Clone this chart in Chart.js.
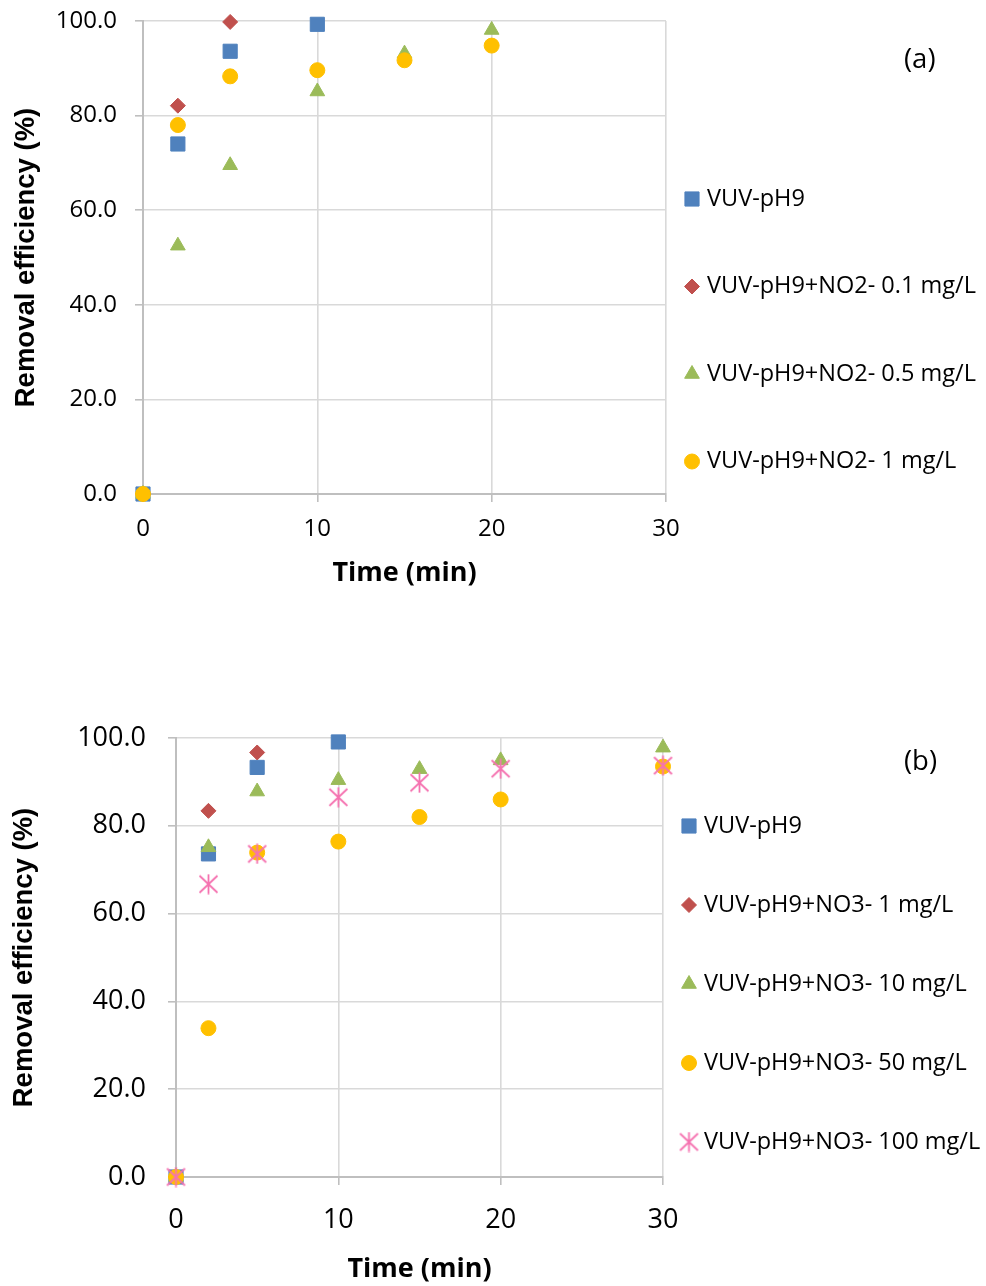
<!DOCTYPE html>
<html>
<head>
<meta charset="utf-8">
<script src="https://cdn.jsdelivr.net/npm/chart.js@4.4.1/dist/chart.umd.min.js"></script>
<style>
  html, body { margin: 0; padding: 0; background: #fff; }
  body { width: 986px; height: 1286px; position: relative; overflow: hidden; font-family: 'Open Sans', sans-serif; }
  canvas { position: absolute; left: 0; }
  #chartA { top: 0; }
  #chartB { top: 690px; }
  .panel { position: absolute; left: 904px; font-size: 27.5px; line-height: 36px; color: #000; }
</style>
</head>
<body>
<canvas id="chartA" width="986" height="600"></canvas>
<canvas id="chartB" width="986" height="596"></canvas>
<div class="panel" style="top:40px">(a)</div>
<div class="panel" style="top:742px">(b)</div>
<script>
// ---- data ----
// (a) nitrite
const minutesA = [0, 2, 5, 10, 15, 20];
const vuvA = [0, 74.0, 93.6, 99.3];
const no2_01 = [0, 82.1, 99.8];
const no2_05 = [0, 52.5, 69.5, 85.1, 93.1, 98.1];
const no2_1 = [0, 78.0, 88.3, 89.6, 91.7, 94.8];
const labelsA = ['VUV-pH9', 'VUV-pH9+NO2- 0.1 mg/L', 'VUV-pH9+NO2- 0.5 mg/L', 'VUV-pH9+NO2- 1 mg/L'];

// (b) nitrate
const minutesB = [0, 2, 5, 10, 15, 20, 30];
const vuvB = [0, 73.6, 93.3, 99.1];
const no3_1 = [0, 83.4, 96.7];
const no3_10 = [0, 75.1, 87.8, 90.4, 92.9, 94.9, 97.8];
const no3_50 = [0, 33.9, 73.9, 76.4, 82.0, 86.0, 93.5];
const no3_100 = [0, 66.7, 73.6, 86.5, 89.8, 93.0, 93.7];
const labelsB = ['VUV-pH9', 'VUV-pH9+NO3- 1 mg/L', 'VUV-pH9+NO3- 10 mg/L', 'VUV-pH9+NO3- 50 mg/L', 'VUV-pH9+NO3- 100 mg/L'];

const xTicks = [0, 10, 20, 30];
const yTicks = [0, 20, 40, 60, 80, 100];

// excel-ish marker for the last series: X with a vertical bar
function asterisk(color) {
  const c = document.createElement('canvas');
  c.width = 21; c.height = 21;
  const g = c.getContext('2d');
  g.strokeStyle = color;
  g.lineWidth = 1.8;
  g.beginPath();
  g.moveTo(10.5, 0.5); g.lineTo(10.5, 20.5);
  g.moveTo(1.5, 2); g.lineTo(19.5, 19);
  g.moveTo(19.5, 2); g.lineTo(1.5, 19);
  g.stroke();
  return c;
}

const markers = [
  { style: 'rect', color: '#4f81bd', r: 10 },
  { style: 'rectRot', color: '#c0504d', r: 7.5 },
  { style: 'triangle', color: '#9bbb59', r: 8.5 },
  { style: 'circle', color: '#ffc000', r: 7.5 },
  { style: asterisk('#f572b0'), color: '#f572b0', r: 10 }
];

function series(labels, times, lists) {
  return lists.map((vals, i) => ({
    label: labels[i],
    data: vals.map((v, k) => ({ x: times[k], y: v })),
    pointStyle: markers[i].style,
    pointRadius: markers[i].r,
    pointHoverRadius: markers[i].r,
    backgroundColor: markers[i].color,
    borderColor: markers[i].color,
    pointBorderWidth: 1,
    showLine: false,
    clip: false,
    order: lists.length - i   // later series on top, like Excel
  }));
}

// legend drawn at the right with wide spacing
const sideLegend = {
  id: 'sideLegend',
  afterDraw(chart, args, opts) {
    const ctx = chart.ctx;
    ctx.save();
    ctx.font = opts.font;
    ctx.textBaseline = 'middle';
    chart.data.datasets.forEach((ds, i) => {
      const y = opts.y + i * opts.step;
      ctx.fillStyle = ds.backgroundColor;
      ctx.strokeStyle = ds.borderColor;
      ctx.lineWidth = 1;
      Chart.helpers.drawPoint(ctx, { pointStyle: ds.pointStyle, radius: ds.pointRadius, rotation: 0, borderWidth: 1 }, opts.x, y);
      ctx.fillStyle = '#000';
      ctx.fillText(ds.label, opts.textX, y);
    });
    ctx.restore();
  }
};

function scales(c) {
  return {
    x: {
      type: 'linear', min: 0, max: 30,
      afterBuildTicks: s => { s.ticks = xTicks.map(v => ({ value: v })); },
      ticks: { color: '#000', font: { family: 'Open Sans', size: c.tick }, padding: c.xPad, maxRotation: 0 },
      grid: { color: '#d9d9d9', lineWidth: 1.6, tickLength: 8, tickColor: '#bfbfbf' },
      border: { color: '#bfbfbf', width: 2 },
      title: { display: true, text: 'Time (min)', color: '#000',
        font: { family: 'Open Sans', size: 27, weight: 'bold' }, padding: { top: 0, bottom: c.xTitlePad } },
      afterFit: s => { s.height = c.xH; }
    },
    y: {
      type: 'linear', min: 0, max: 100,
      afterBuildTicks: s => { s.ticks = yTicks.map(v => ({ value: v })); },
      ticks: { color: '#000', font: { family: 'Open Sans', size: c.tick }, padding: c.yPad, callback: v => v.toFixed(1) },
      grid: { color: '#d9d9d9', lineWidth: 1.6, tickLength: 8, tickColor: '#bfbfbf' },
      border: { color: '#bfbfbf', width: 2 },
      title: { display: true, text: 'Removal efficiency (%)', color: '#000',
        font: { family: 'Liberation Sans', size: 27.5, weight: 'bold' }, padding: { top: c.yTitlePad, bottom: 0 } },
      // fixed axis width; label overhang is left to the layout padding
      afterFit: s => { s.width = c.yW; s.paddingTop = 0; s.paddingBottom = 0; }
    }
  };
}

function build(id, datasets, c, leg) {
  return new Chart(document.getElementById(id), {
    type: 'scatter',
    data: { datasets },
    plugins: [sideLegend],
    options: {
      responsive: false,
      animation: false,
      events: [],
      layout: { padding: { top: c.top, right: c.right, left: 0, bottom: 0 } },
      plugins: {
        legend: { display: false },
        tooltip: { enabled: false },
        sideLegend: leg
      },
      scales: scales(c)
    }
  });
}

build('chartA', series(labelsA, minutesA, [vuvA, no2_01, no2_05, no2_1]),
  { top: 21, right: 320, yW: 143, xH: 106, tick: 24, xPad: 13, yPad: 18, xTitlePad: 10, yTitlePad: 10 },
  { x: 692, textX: 707, y: 199, step: 87.5, font: '23.5px "Open Sans"' });

build('chartB', series(labelsB, minutesB, [vuvB, no3_1, no3_10, no3_50, no3_100]),
  { top: 48, right: 323, yW: 176, xH: 109, tick: 27, xPad: 19, yPad: 22, xTitlePad: 0, yTitlePad: 8 },
  { x: 689, textX: 704, y: 136, step: 79, font: '23.5px "Open Sans"' });
</script>
</body>
</html>
